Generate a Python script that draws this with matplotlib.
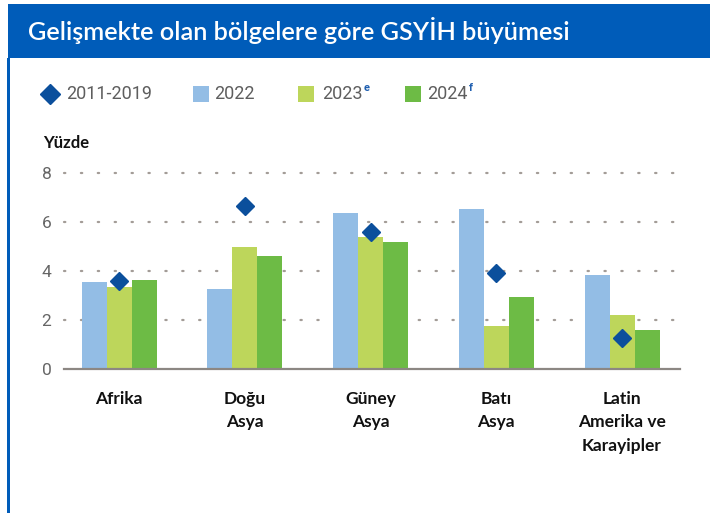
import matplotlib
matplotlib.use("Agg")
import matplotlib.pyplot as plt
from matplotlib.patches import Rectangle
from matplotlib.lines import Line2D
import numpy as np

# ---- data ----
categories = ["Afrika", "Doğu\nAsya", "Güney\nAsya", "Batı\nAsya", "Latin\nAmerika ve\nKarayipler"]
avg_2011_2019 = [3.6, 6.65, 5.6, 3.9, 1.25]
g2022 = [3.55, 3.25, 6.35, 6.55, 3.85]
g2023 = [3.35, 5.0, 5.4, 1.75, 2.2]
g2024 = [3.65, 4.6, 5.2, 2.95, 1.6]
legend_labels = ["2011-2019", "2022", "2023", "2024"]
legend_sups = ["", "", "e", "f"]
yticks = [0, 2, 4, 6, 8]
title = "Gelişmekte olan bölgelere göre GSYİH büyümesi"
ylabel = "Yüzde"

# ---- style ----
C_DIAMOND = "#0B4F9C"
C_2022 = "#93BDE5"
C_2023 = "#BDD65B"
C_2024 = "#6DBB45"
C_BANNER = "#005CB9"
W, H = 710, 513

fig = plt.figure(figsize=(W / 100, H / 100), dpi=100)
fig.patch.set_facecolor("white")


def fx(x):
    return x / W


def fy(y):
    return 1 - y / H


# banner and left border
fig.add_artist(Rectangle((fx(8), fy(58)), 1 - fx(8), (58 - 4) / H, transform=fig.transFigure,
                         facecolor=C_BANNER, edgecolor="none", zorder=0))
fig.add_artist(Rectangle((fx(7), 0), 3 / W, fy(58), transform=fig.transFigure,
                         facecolor=C_BANNER, edgecolor="none", zorder=0))
tt = fig.text(fx(28), fy(30), title, color="white", fontsize=17, family="Lato",
              fontweight="semibold", va="center", ha="left")
fig.canvas.draw()
tw = tt.get_window_extent().width
tt.set_fontsize(17 * 542 / tw)

# axes: x 64..680 px, y value 0 at 369 px, 8 at 173 px
left, right = 64, 680
y0, y8 = 369, 173
ax = fig.add_axes([fx(left), fy(y0), (right - left) / W, (y0 - y8) / H])
c0, c4 = 119, 622
scale = (c4 - c0) / 4
ax.set_xlim((left - c0) / scale, (right - c0) / scale)
ax.set_ylim(0, 8)

x = np.arange(len(categories))
bw = 25 / scale
ax.bar(x - bw, g2022, bw, color=C_2022, zorder=2)
ax.bar(x, g2023, bw, color=C_2023, zorder=2)
ax.bar(x + bw, g2024, bw, color=C_2024, zorder=2)
ax.plot(x, avg_2011_2019, linestyle="none", marker="D", markersize=9,
        color=C_DIAMOND, zorder=3)

for yv in yticks[1:]:
    ax.axhline(yv, color="#A39C97", linestyle=(0, (0.6, 7.0)), linewidth=1.6,
               zorder=1, clip_on=False, dash_capstyle="round")
ax.axhline(0, color="#8C8783", linewidth=1.6, zorder=4, clip_on=False)

for s in ax.spines.values():
    s.set_visible(False)
ax.set_yticks(yticks)
ax.set_yticklabels([str(v) for v in yticks], family="Roboto", fontsize=12.5, color="#666666")
ax.tick_params(axis="y", length=0, pad=9)
ax.set_xticks(x)
ax.set_xticklabels(categories, family="Lato", fontweight="bold", fontsize=12.5,
                   color="#111111", linespacing=1.55)
ax.tick_params(axis="x", length=0, pad=16)

fig.text(fx(43), fy(143), ylabel, family="Lato", fontweight="bold", fontsize=12,
         color="#111111", va="center", ha="left")

# legend (manual)
ly = 94
fig.add_artist(Line2D([fx(50)], [fy(ly)], marker="D", markersize=10.5, color=C_DIAMOND,
                      linestyle="none", transform=fig.transFigure))
sq = [(193, C_2022), (298, C_2023), (405, C_2024)]
for (sx, col) in sq:
    fig.add_artist(Rectangle((fx(sx), fy(ly + 8)), 16 / W, 16 / H, transform=fig.transFigure,
                             facecolor=col, edgecolor="none"))
text_x = [66, 214, 322, 427]
for tx, lab, sup in zip(text_x, legend_labels, legend_sups):
    t = fig.text(fx(tx), fy(ly), lab, family="Roboto", fontsize=13, color="#5E5E5E",
                 va="center", ha="left")
    if sup:
        fig.canvas.draw()
        bb = t.get_window_extent()
        fig.text(bb.x1 / W + 1 / W, fy(ly - 6), sup, family="Roboto", fontsize=8,
                 fontweight="bold", color="#1F5FB0", va="center", ha="left")

fig.savefig("out.png", dpi=100)
